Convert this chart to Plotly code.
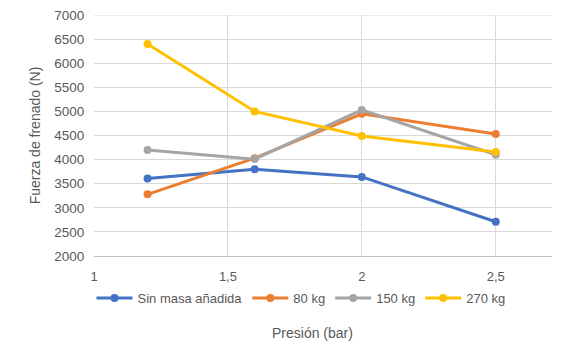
import plotly.graph_objects as go

presion = [1.2, 1.6, 2.0, 2.5]
sin_masa = [3610, 3800, 3640, 2710]
kg80 = [3280, 4030, 4950, 4530]
kg150 = [4200, 4010, 5030, 4100]
kg270 = [6400, 5000, 4490, 4160]

series_names = ["Sin masa añadida", "80 kg", "150 kg", "270 kg"]
series_values = [sin_masa, kg80, kg150, kg270]
colors = ["#4472C4", "#ED7D31", "#A5A5A5", "#FFC000"]

x_tickvals = [1, 1.5, 2, 2.5]
x_ticktext = ["1", "1,5", "2", "2,5"]
y_tickvals = list(range(2000, 7001, 500))

font_family = "Liberation Sans, Arial, sans-serif"
text_color = "#595959"
grid_color = "#D9D9D9"

# page body has an 8px default margin
W, H = 573, 349
L, R, T, B = 86, 29, 7, 101
PW, PH = W - L - R, H - T - B

def px_x(x):
    return (x - 8 - L) / PW

def px_y(y):
    return 1 - (y - 8 - T) / PH

fig = go.Figure()
for name, vals, col in zip(series_names, series_values, colors):
    fig.add_trace(go.Scatter(
        x=presion, y=vals, name=name, mode="lines+markers",
        line=dict(color=col, width=3),
        marker=dict(color=col, size=8),
        cliponaxis=False,
    ))

fig.update_layout(
    width=W, height=H,
    margin=dict(l=L, r=R, t=T, b=B, autoexpand=False),
    paper_bgcolor="white", plot_bgcolor="white",
    font=dict(family=font_family, size=13, color=text_color),
    showlegend=True,
    legend=dict(orientation="h", xref="paper", x=px_x(301), xanchor="center",
                yref="paper", y=px_y(298), yanchor="middle",
                font=dict(size=13, color=text_color),
                itemwidth=36, tracegroupgap=0),
    xaxis=dict(range=[1, 2.71], tickvals=x_tickvals, ticktext=x_ticktext,
               showgrid=True, gridcolor=grid_color, gridwidth=1,
               showline=True, linecolor="#BFBFBF", linewidth=1,
               zeroline=False, ticks="outside", ticklen=8, tickcolor="rgba(0,0,0,0)",
               automargin=False, ticklabeloverflow="allow",
               tickfont=dict(size=13, color=text_color)),
    yaxis=dict(range=[2000, 7000], tickvals=y_tickvals,
               showgrid=True, gridcolor=grid_color, gridwidth=1,
               showline=False, zeroline=False, ticks="outside", ticklen=6,
               tickcolor="rgba(0,0,0,0)", automargin=False,
               ticklabeloverflow="allow",
               tickfont=dict(size=13.5, color=text_color),
               title=dict(text="Fuerza de frenado (N)", standoff=10,
                          font=dict(size=14, color=text_color))),
)

# top gridline (Plotly drops the gridline at the range edge)
fig.add_shape(type="line", xref="paper", yref="y", x0=0, x1=1,
              y0=y_tickvals[-1], y1=y_tickvals[-1],
              line=dict(color=grid_color, width=1), layer="below")

fig.add_annotation(text="Presión (bar)", xref="paper", yref="paper",
                   x=px_x(312), y=px_y(333),
                   showarrow=False, xanchor="center", yanchor="middle",
                   font=dict(size=14, color=text_color))

fig.write_html("out.html")
